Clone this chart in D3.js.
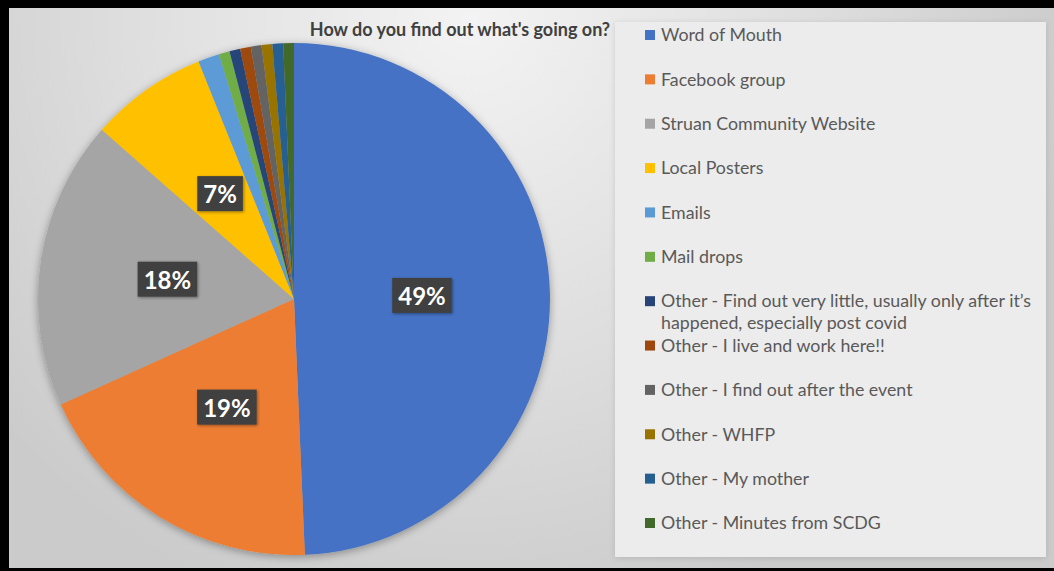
<!DOCTYPE html>
<html>
<head>
<meta charset="utf-8">
<script src="https://cdn.jsdelivr.net/npm/d3@7/dist/d3.min.js"></script>
<style>
  html, body { margin: 0; padding: 0; background: #d2d2d2; overflow: hidden; }
  svg { display: block; }
</style>
</head>
<body>
<svg id="chart" width="1054" height="571"></svg>
<script>
// Survey responses: "How do you find out what's going on?"
const categories = [
  "Word of Mouth",
  "Facebook group",
  "Struan Community Website",
  "Local Posters",
  "Emails",
  "Mail drops",
  "Other - Find out very little, usually only after it\u2019s\nhappened, especially post covid",
  "Other - I live and work here!!",
  "Other - I find out after the event",
  "Other - WHFP",
  "Other - My mother",
  "Other - Minutes from SCDG"
];
const responses = [73, 28, 27, 11, 2, 1, 1, 1, 1, 1, 1, 1];
const sliceColors = [
  "#4472c4", "#ed7d31", "#a5a5a5", "#ffc000", "#5b9bd5", "#70ad47",
  "#264478", "#9e480e", "#636363", "#997300", "#255e91", "#43682b"
];
const chartTitle = "How do you find out what's going on?";

const W = 1054, H = 571;
const svg = d3.select("#chart");
const defs = svg.append("defs");

// slide background: soft grey with a lighter glow near the title
const bg = defs.append("radialGradient").attr("id", "bgGrad")
  .attr("gradientUnits", "userSpaceOnUse")
  .attr("cx", 470).attr("cy", 20).attr("r", 620);
bg.append("stop").attr("offset", "0").attr("stop-color", "#f3f3f3");
bg.append("stop").attr("offset", "0.55").attr("stop-color", "#dedede");
bg.append("stop").attr("offset", "1").attr("stop-color", "#cbcbcb");

const pieShadow = defs.append("filter").attr("id", "pieShadow")
  .attr("x", "-10%").attr("y", "-10%").attr("width", "120%").attr("height", "120%");
pieShadow.append("feDropShadow").attr("dx", 0).attr("dy", 2)
  .attr("stdDeviation", 4).attr("flood-color", "#000").attr("flood-opacity", 0.35);

const boxShadow = defs.append("filter").attr("id", "boxShadow")
  .attr("x", "-20%").attr("y", "-20%").attr("width", "140%").attr("height", "140%");
boxShadow.append("feDropShadow").attr("dx", 1).attr("dy", 1)
  .attr("stdDeviation", 1.5).attr("flood-color", "#000").attr("flood-opacity", 0.4);

const legShadow = defs.append("filter").attr("id", "legShadow")
  .attr("x", "-5%").attr("y", "-5%").attr("width", "110%").attr("height", "110%");
legShadow.append("feDropShadow").attr("dx", 0).attr("dy", 1)
  .attr("stdDeviation", 3).attr("flood-color", "#000").attr("flood-opacity", 0.12);

svg.append("rect").attr("width", W).attr("height", H).attr("fill", "url(#bgGrad)");

// legend panel
svg.append("rect")
  .attr("x", 615).attr("y", 22).attr("width", 431).attr("height", 535)
  .attr("fill", "#ececec").attr("filter", "url(#legShadow)");

// frame
svg.append("rect").attr("x", 0).attr("y", 0).attr("width", W).attr("height", 8).attr("fill", "#000");
svg.append("rect").attr("x", 0).attr("y", 0).attr("width", 9).attr("height", H).attr("fill", "#000");
svg.append("rect").attr("x", 0).attr("y", 568).attr("width", W).attr("height", 3).attr("fill", "#000");

// title
svg.append("text")
  .attr("x", 460).attr("y", 36)
  .attr("text-anchor", "middle")
  .attr("font-family", "Lato, 'Open Sans', sans-serif")
  .attr("font-weight", "bold")
  .attr("font-size", 18)
  .attr("fill", "#404040")
  .text(chartTitle);

// pie
const cx = 294, cy = 299, radius = 256;
const total = d3.sum(responses);
const color = d3.scaleOrdinal().domain(categories).range(sliceColors);
const pie = d3.pie().sort(null).value((d, i) => responses[i]);
const arcs = pie(categories);
const arc = d3.arc().innerRadius(0).outerRadius(radius);
const labelArc = d3.arc().innerRadius(radius * 0.5).outerRadius(radius * 0.5);

const g = svg.append("g").attr("transform", `translate(${cx},${cy})`);
g.append("g").attr("filter", "url(#pieShadow)")
  .selectAll("path").data(arcs).join("path")
  .attr("d", arc)
  .attr("fill", d => color(d.data));

// percentage labels on the larger slices
const labels = g.selectAll("g.lbl")
  .data(arcs.filter(d => (d.endAngle - d.startAngle) / (2 * Math.PI) >= 0.05))
  .join("g").attr("class", "lbl")
  .attr("transform", d => `translate(${labelArc.centroid(d)})`);
labels.each(function(d) {
  const lg = d3.select(this);
  const rect = lg.append("rect").attr("fill", "#404040").attr("filter", "url(#boxShadow)");
  const t = lg.append("text")
    .attr("text-anchor", "middle")
    .attr("dy", "0.36em")
    .attr("font-family", "Lato, 'Open Sans', sans-serif")
    .attr("font-weight", "bold")
    .attr("font-size", 24)
    .attr("fill", "#ffffff")
    .text(Math.round(d.value / total * 100) + "%");
  const bb = t.node().getBBox();
  const padX = 6, padY = 3;
  rect.attr("x", bb.x - padX).attr("y", bb.y - padY)
    .attr("width", bb.width + 2 * padX).attr("height", bb.height + 2 * padY);
});

// legend
const legY = d3.scalePoint().domain(categories).range([35, 523]);
const leg = svg.append("g").selectAll("g").data(categories).join("g")
  .attr("transform", d => `translate(645,${legY(d)})`);
leg.append("rect")
  .attr("x", 0).attr("y", -5).attr("width", 10).attr("height", 10)
  .attr("fill", d => color(d));
leg.append("text")
  .attr("x", 16)
  .attr("font-family", "Lato, 'Open Sans', sans-serif")
  .attr("font-size", 17.8)
  .attr("fill", "#595959")
  .each(function(d) {
    const lines = d.split("\n");
    d3.select(this).selectAll("tspan").data(lines).join("tspan")
      .attr("x", 16)
      .attr("y", (l, i) => i * 22)
      .attr("dy", "0.35em")
      .text(l => l);
  });
</script>
</body>
</html>
